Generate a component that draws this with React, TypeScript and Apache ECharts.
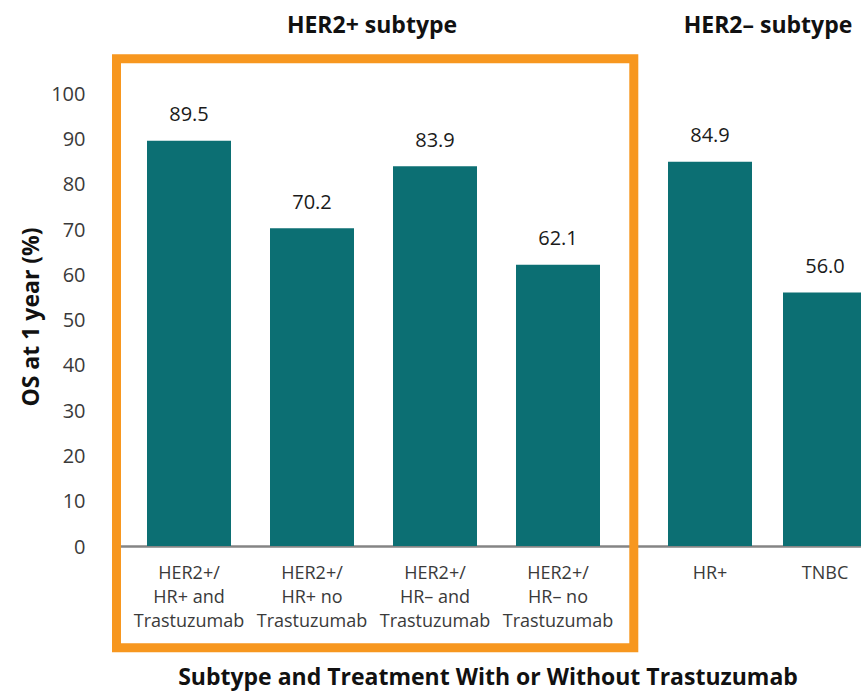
import React, { useEffect, useRef } from "react";
import * as echarts from "echarts";

const her2PosCategories = [
  "HER2+/\nHR+ and\nTrastuzumab",
  "HER2+/\nHR+ no\nTrastuzumab",
  "HER2+/\nHR– and\nTrastuzumab",
  "HER2+/\nHR– no\nTrastuzumab",
];
const her2PosValues = [89.5, 70.2, 83.9, 62.1];

const her2NegCategories = ["HR+", "TNBC"];
const her2NegValues = [84.9, 56.0];

const yTicks = { min: 0, max: 100, interval: 10 };

const groupTitles = ["HER2+ subtype", "HER2– subtype"];
const yAxisTitle = "OS at 1 year (%)";
const xAxisTitle = "Subtype and Treatment With or Without Trastuzumab";

const FONT = "'Open Sans', 'Noto Sans', sans-serif";
const BAR = "#0c6f73";
const ORANGE = "#f7971f";
const AXIS = "#858585";

export default function App() {
  const ref = useRef<HTMLDivElement>(null);
  useEffect(() => {
    document.body.style.margin = "0";
    if (!ref.current) return;
    const chart = echarts.init(ref.current, undefined, { renderer: "svg" });
    const top = 93.3;
    const bottom = 147;
    const hiddenY = (gridIndex: number) => ({
      type: "value" as const,
      gridIndex,
      min: yTicks.min,
      max: yTicks.max,
      interval: yTicks.interval,
      show: false,
      splitLine: { show: false },
    });
    const catAxis = (gridIndex: number, data: string[]) => ({
      type: "category" as const,
      gridIndex,
      data,
      axisLine: { show: false },
      axisTick: { show: false },
      axisLabel: {
        color: "#3a3a3a",
        fontSize: 18,
        lineHeight: 24,
        fontFamily: FONT,
        margin: 14,
        interval: 0,
      },
    });
    const valueLabel = {
      show: true,
      position: "top" as const,
      distance: 17,
      color: "#1a1a1a",
      fontSize: 20,
      fontFamily: FONT,
      formatter: (p: any) => Number(p.value).toFixed(1),
    };
    const titleFont = `bold 23px ${FONT}`;
    chart.setOption({
      animation: false,
      backgroundColor: "#ffffff",
      grid: [
        { left: 114.5, right: 0, top, bottom, outerBoundsMode: "none", containLabel: false },
        { left: 127.5, width: 492, top, bottom, outerBoundsMode: "none", containLabel: false },
        { left: 652.5, width: 230, top, bottom, outerBoundsMode: "none", containLabel: false },
      ],
      xAxis: [
        {
          type: "category",
          gridIndex: 0,
          data: [""],
          axisLine: { show: true, lineStyle: { color: AXIS, width: 2.5 } },
          axisTick: { show: false },
          axisLabel: { show: false },
        },
        catAxis(1, her2PosCategories),
        catAxis(2, her2NegCategories),
      ],
      yAxis: [
        {
          type: "value",
          gridIndex: 0,
          min: yTicks.min,
          max: yTicks.max,
          interval: yTicks.interval,
          axisLine: { show: true, lineStyle: { color: AXIS, width: 2.5 } },
          axisTick: { show: false },
          splitLine: { show: false },
          axisLabel: {
            color: "#3a3a3a",
            fontSize: 20,
            fontFamily: FONT,
            margin: 29,
          },
        },
        hiddenY(1),
        hiddenY(2),
      ],
      series: [
        {
          type: "bar",
          xAxisIndex: 1,
          yAxisIndex: 1,
          data: her2PosValues,
          barWidth: 84,
          itemStyle: { color: BAR },
          label: valueLabel,
        },
        {
          type: "bar",
          xAxisIndex: 2,
          yAxisIndex: 2,
          data: her2NegValues,
          barWidth: 84,
          itemStyle: { color: BAR },
          label: valueLabel,
        },
      ],
      graphic: [
        {
          type: "rect",
          shape: { x: 116.5, y: 58.8, width: 517.3, height: 589 },
          style: { fill: "none", stroke: ORANGE, lineWidth: 9 },
          z: 100,
        },
        {
          type: "text",
          x: 372,
          y: 24,
          style: {
            text: groupTitles[0],
            font: titleFont,
            fill: "#111",
            textAlign: "center",
            textVerticalAlign: "middle",
          },
        },
        {
          type: "text",
          x: 768,
          y: 24,
          style: {
            text: groupTitles[1],
            font: titleFont,
            fill: "#111",
            textAlign: "center",
            textVerticalAlign: "middle",
          },
        },
        {
          type: "text",
          x: 30,
          y: 317,
          rotation: Math.PI / 2,
          style: {
            text: yAxisTitle,
            font: titleFont,
            fill: "#111",
            textAlign: "center",
            textVerticalAlign: "middle",
          },
        },
        {
          type: "text",
          x: 488,
          y: 676,
          style: {
            text: xAxisTitle,
            font: titleFont,
            fill: "#111",
            textAlign: "center",
            textVerticalAlign: "middle",
          },
        },
      ],
    });
    return () => chart.dispose();
  }, []);
  return <div ref={ref} style={{ width: 861, height: 693 }} />;
}
